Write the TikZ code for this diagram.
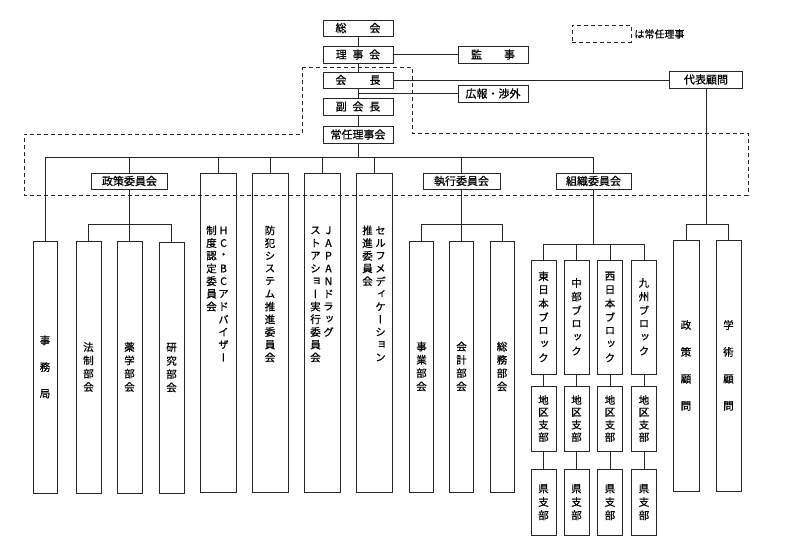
\documentclass[tikz,border=0pt]{standalone}
\usepackage{fontspec}
\setmainfont{Noto Sans CJK JP}[FakeBold=0.6]
\newfontfamily\vjp[RawFeature=+vert,FakeBold=0.6]{Noto Sans CJK JP}
\makeatletter
\newcommand\vstack[2]{\vbox{\offinterlineskip\@tfor\vs@c:=#2\do{\vbox to #1{\vss\hbox to 1.2em{\hss\vs@c\hss}\vss}}}}
\makeatother
\begin{document}
\begin{tikzpicture}[x=1pt,y=-1pt,line width=0.85pt,draw=black!85,
  box/.style={draw,rectangle,inner sep=0pt,font=\fontsize{11}{13}\selectfont},
  tallbox/.style={draw,rectangle,inner sep=0pt,font=\vjp\fontsize{10.5}{12}\selectfont},
  vt/.style={inner sep=0pt,anchor=north,font=\vjp\fontsize{10.5}{12}\selectfont},
  dsh/.style={dash pattern=on 4pt off 3pt}]
\useasboundingbox[fill=white] (0,0) rectangle (787,541);

% top chain
\node[box,minimum width=70pt,minimum height=16pt] (sokai) at (358,28) {総\hspace{23pt}会};
\node[box,minimum width=70pt,minimum height=17pt] (rijikai) at (358,54.5) {理\hspace{5.7pt}事\hspace{5.7pt}会};
\node[box,minimum width=70pt,minimum height=17pt] (kanji) at (493,54.5) {監\hspace{22pt}事};
\node[box,minimum width=70pt,minimum height=16pt] (kaicho) at (358,80) {会\hspace{23pt}長};
\node[box,minimum width=70pt,minimum height=17pt] (koho) at (493,93.5) {広報・渉外};
\node[box,minimum width=70pt,minimum height=17pt] (fuku) at (358,106.5) {副\hspace{5.7pt}会\hspace{5.7pt}長};
\node[box,minimum width=70pt,minimum height=17pt] (jonin) at (358,134.5) {常任理事会};
\node[box,minimum width=73pt,minimum height=17pt] (daihyo) at (706,79.5) {代表顧問};

% legend
\node[draw,dsh,inner sep=0pt,minimum width=59pt,minimum height=17pt] (leg) at (601.5,33.5) {};
\node[inner sep=0pt,anchor=west,font=\fontsize{10}{12}\selectfont] (legt) at (634,34) {は常任理事};

% dashed region
\draw[dsh] (302,67) -- (412,67) -- (412,133) -- (748,133) -- (748,195) -- (24,195) -- (24,134) -- (302,134) -- cycle;

% second level
\node[tallbox,minimum width=24pt,minimum height=252pt] (jimu) at (45,367) {\vstack{26.7pt}{事務局}};
\node[box,minimum width=76pt,minimum height=16pt] (seisaku) at (129.5,181) {政策委員会};
\node[tallbox,minimum width=36pt,minimum height=319pt] (hc) at (218,332.5) {};
\node[tallbox,minimum width=36pt,minimum height=319pt] (bohan) at (270,332.5) {};
\node[tallbox,minimum width=36pt,minimum height=319pt] (japan) at (322,332.5) {};
\node[tallbox,minimum width=36pt,minimum height=319pt] (self) at (374,332.5) {};
\node[box,minimum width=77pt,minimum height=16pt] (shikko) at (461.5,181) {執行委員会};
\node[box,minimum width=75pt,minimum height=16pt] (soshiki) at (593.5,181) {組織委員会};

% vertical texts in committee boxes
\node[vt] (hc1) at (223.5,223.6) {\vstack{12.7pt}{HC・BCアドバイザー}};
\node[vt] (hc2) at (211.5,223.6) {\vstack{12.7pt}{制度認定委員会}};
\node[vt] (bo1) at (270,223.6) {\vstack{12.7pt}{防犯システム推進委員会}};
\node[vt] (ja1) at (328.5,223.6) {\vstack{12.7pt}{JAPANドラッグ}};
\node[vt] (ja2) at (315.5,223.6) {\vstack{12.7pt}{ストアショー実行委員会}};
\node[vt] (se1) at (380.5,223.6) {\vstack{12.7pt}{セルフメディケーション}};
\node[vt] (se2) at (367.5,223.6) {\vstack{12.7pt}{推進委員会}};

% seisaku subtree
\node[tallbox,minimum width=25pt,minimum height=252pt] (hosei) at (88.5,367) {\vstack{13.3pt}{法制部会}};
\node[tallbox,minimum width=25pt,minimum height=252pt] (yaku) at (129.5,367) {\vstack{13.3pt}{薬学部会}};
\node[tallbox,minimum width=25pt,minimum height=251pt] (kenkyu) at (171.5,367.5) {\vstack{13.3pt}{研究部会}};

% shikko subtree
\node[tallbox,minimum width=24pt,minimum height=251pt] (jigyo) at (421.5,366.5) {\vstack{13.3pt}{事業部会}};
\node[tallbox,minimum width=24pt,minimum height=251pt] (kaikei) at (461.5,366.5) {\vstack{13.3pt}{会計部会}};
\node[tallbox,minimum width=24pt,minimum height=251pt] (somu) at (502,366.5) {\vstack{13.3pt}{総務部会}};

% soshiki subtree
\node[tallbox,minimum width=25pt,minimum height=114pt] (higashi) at (543.5,317) {\vstack{13.6pt}{東日本ブロック}};
\node[tallbox,minimum width=25pt,minimum height=114pt] (chubu) at (576.5,317) {\vstack{13.6pt}{中部ブロック}};
\node[tallbox,minimum width=25pt,minimum height=114pt] (nishi) at (610,317) {\vstack{13.6pt}{西日本ブロック}};
\node[tallbox,minimum width=25pt,minimum height=114pt] (kyushu) at (644,317) {\vstack{13.6pt}{九州ブロック}};
\foreach \n/\x in {a/543.5,b/576.5,c/610,d/644}{
  \node[tallbox,minimum width=25pt,minimum height=65pt] (chiku\n) at (\x,418.5) {\vstack{12.4pt}{地区支部}};
  \node[tallbox,minimum width=25pt,minimum height=66pt] (ken\n) at (\x,502) {\vstack{13.3pt}{県支部}};
  \draw (chiku\n) -- (ken\n);
}
\draw (higashi) -- (chikua);
\draw (chubu) -- (chikub);
\draw (nishi) -- (chikuc);
\draw (kyushu) -- (chikud);

% komon subtree
\node[tallbox,minimum width=26pt,minimum height=251pt] (skomon) at (686,365.5) {\vstack{27pt}{政策顧問}};
\node[tallbox,minimum width=25pt,minimum height=251pt] (gkomon) at (728.5,365.5) {\vstack{27pt}{学術顧問}};

% connectors top
\draw (sokai) -- (rijikai);
\draw (rijikai) -- (kaicho);
\draw (kaicho) -- (fuku);
\draw (fuku) -- (jonin);
\draw (rijikai) -- (kanji);
\draw (kaicho.east) -- (kaicho.east -| daihyo.west);
\draw (kaicho.south |- koho.west) -- (koho.west);

% bus
\coordinate (bus) at (358,157);
\draw (jonin) -- (bus);
\draw (jimu.north |- bus) -- (soshiki.north |- bus);
\foreach \n in {jimu,seisaku,hc,bohan,japan,self,shikko,soshiki}
  \draw (\n.north |- bus) -- (\n.north);

% seisaku brackets
\coordinate (sb) at (129.5,224);
\draw (seisaku.south) -- (sb);
\draw (hosei.north |- sb) -- (kenkyu.north |- sb);
\foreach \n in {hosei,yaku,kenkyu} \draw (\n.north |- sb) -- (\n.north);

% shikko brackets
\coordinate (xb) at (461.5,224);
\draw (shikko.south) -- (xb);
\draw (jigyo.north |- xb) -- (somu.north |- xb);
\foreach \n in {jigyo,kaikei,somu} \draw (\n.north |- xb) -- (\n.north);

% soshiki brackets
\coordinate (ob) at (593.5,244);
\draw (soshiki.south) -- (ob);
\draw (higashi.north |- ob) -- (kyushu.north |- ob);
\foreach \n in {higashi,chubu,nishi,kyushu} \draw (\n.north |- ob) -- (\n.north);

% komon brackets
\coordinate (kb) at (706,224);
\draw (daihyo.south) -- (kb);
\draw (skomon.north |- kb) -- (gkomon.north |- kb);
\foreach \n in {skomon,gkomon} \draw (\n.north |- kb) -- (\n.north);
\end{tikzpicture}
\end{document}
